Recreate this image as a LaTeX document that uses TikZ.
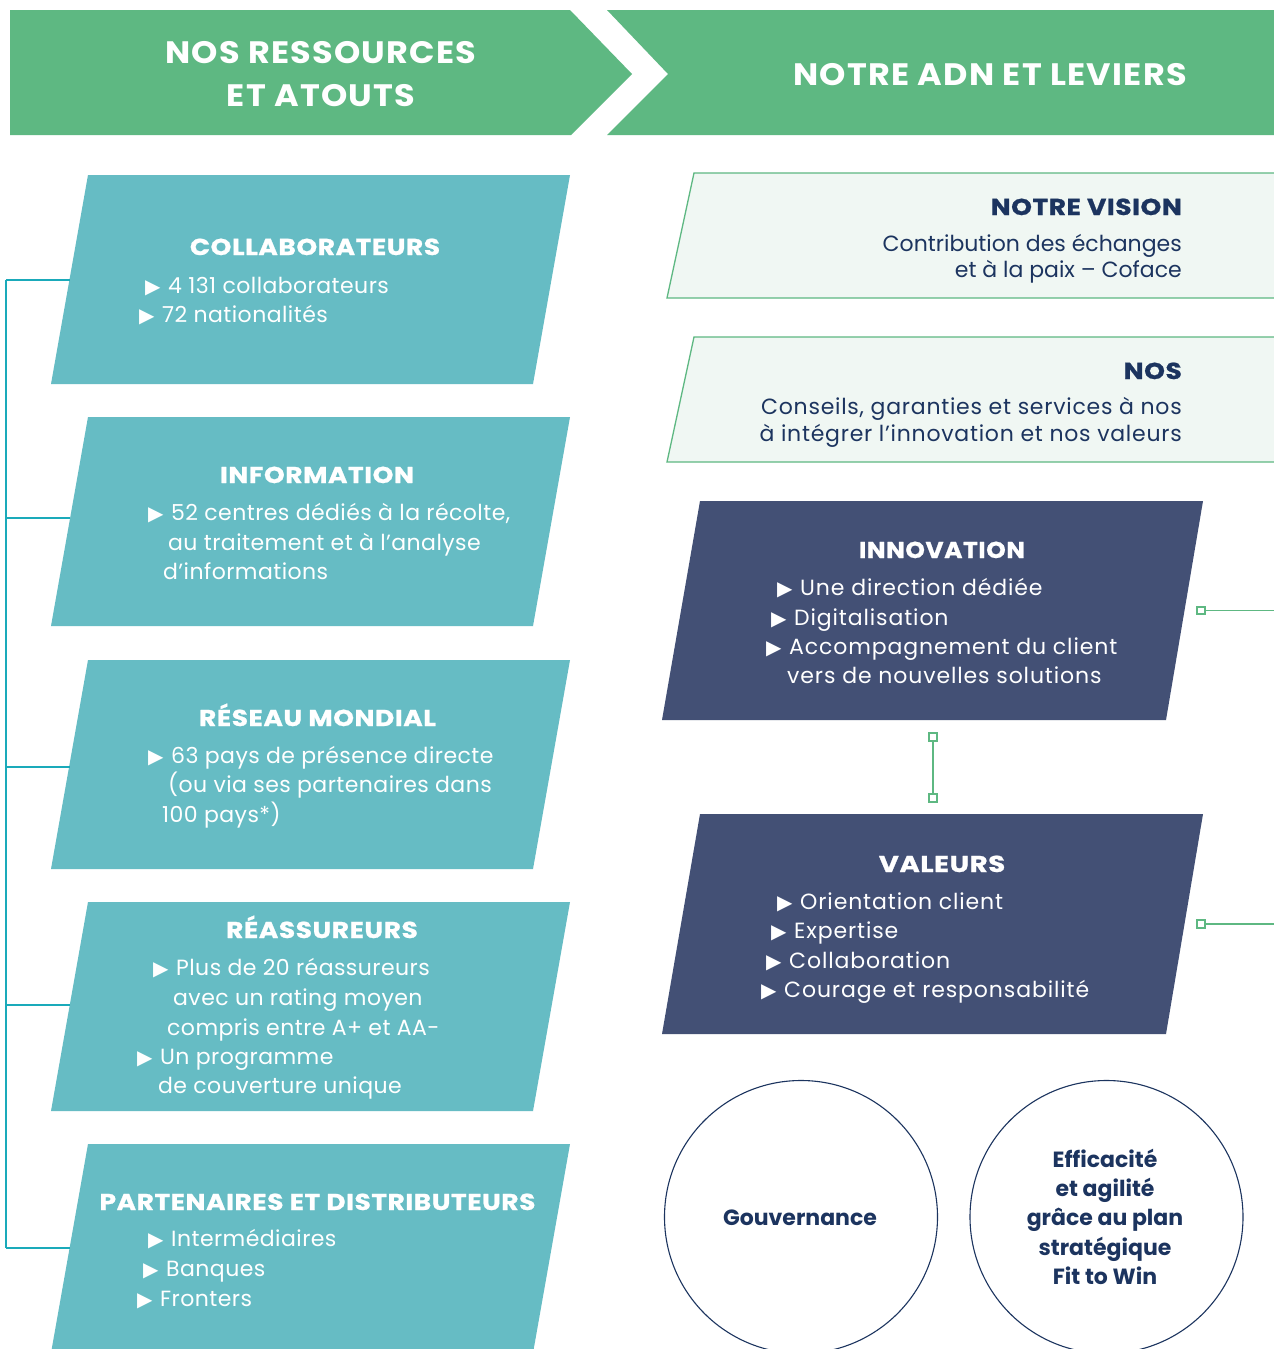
\documentclass[tikz,border=0pt]{standalone}
\usepackage{fontspec}
\setmainfont{Poppins}
\newfontfamily\symfont{DejaVu Sans}
\definecolor{hdrgreen}{RGB}{94,184,130}
\definecolor{tealbox}{RGB}{102,188,196}
\definecolor{tealline}{RGB}{26,170,186}
\definecolor{lightbox}{RGB}{240,247,243}
\definecolor{navybox}{RGB}{67,80,117}
\definecolor{navytext}{RGB}{28,52,95}
\newcommand\tri{\makebox[23pt][l]{\symfont\fontsize{20}{20}\selectfont ▶}}
\newcommand\heavyfont[1]{\bfseries\fontsize{23}{26}\selectfont\addfontfeatures{FakeStretch=#1,LetterSpace=2.5,FakeBold=1}}
\tikzset{
  hdrtext/.style={text=white,font=\bfseries\fontsize{31}{36}\selectfont\addfontfeatures{FakeStretch=1.08,LetterSpace=4},anchor=base,inner sep=0pt},
  ttitle/.style={text=white,font=\heavyfont{1.15},anchor=base,inner sep=0pt},
  tline/.style={text=white,font=\fontsize{22}{26}\selectfont\addfontfeatures{LetterSpace=2},anchor=base west,inner sep=0pt},
  vtitle/.style={text=navytext,font=\heavyfont{1.15},anchor=base east,inner sep=0pt},
  vline/.style={text=navytext,font=\fontsize{22}{26}\selectfont,anchor=base east,inner sep=0pt},
  vlinesp/.style={text=navytext,font=\fontsize{22}{26}\selectfont\addfontfeatures{LetterSpace=3.4},anchor=base east,inner sep=0pt},
  ntitle/.style={text=white,font=\heavyfont{1.08},anchor=base,inner sep=0pt},
  nline/.style={text=white,font=\fontsize{22}{26}\selectfont\addfontfeatures{LetterSpace=4},anchor=base west,inner sep=0pt},
  ctext/.style={text=navytext,font=\bfseries\fontsize{22}{26}\selectfont,anchor=base,inner sep=0pt},
  tealconn/.style={draw=tealline,line width=1.5pt},
  greenconn/.style={draw=hdrgreen,line width=1.7pt},
  sq/.style={draw=hdrgreen,fill=white,line width=1.7pt,minimum size=7.5pt,inner sep=0pt,rectangle},
  circ/.style={draw=navytext,line width=1.1pt,circle,minimum size=273pt,inner sep=0pt}
}
\begin{document}
\begin{tikzpicture}[x=1pt,y=-1pt]
\useasboundingbox (0,0) rectangle (1274,1349);
\fill[white] (0,0) rectangle (1274,1349);

% header banners
\fill[hdrgreen] (10,10) -- (570,10) -- (632,74) -- (571,135) -- (10,135) -- cycle;
\fill[hdrgreen] (607,10) -- (1280,10) -- (1280,135) -- (607,135) -- (668,74) -- cycle;
\node[hdrtext] (h1a) at (321,63) {NOS RESSOURCES};
\node[hdrtext] (h1b) at (321,106) {ET ATOUTS};
\node[hdrtext] (h2) at (990,85) {NOTRE ADN ET LEVIERS};

% teal parallelograms
\foreach \t in {175,417,660,902,1144}{
  \fill[tealbox] (88,\t) -- (570,\t) -- (533,\t+209) -- (51,\t+209) -- cycle;
}
% left spine
\coordinate (sp1) at (6,280);
\coordinate (sp2) at (6,518);
\coordinate (sp3) at (6,767);
\coordinate (sp4) at (6,1005);
\coordinate (sp5) at (6,1248);
\coordinate (bl1) at (70,280);
\coordinate (bl2) at (70,518);
\coordinate (bl3) at (70,767);
\coordinate (bl4) at (70,1005);
\coordinate (bl5) at (70,1248);
\draw[tealconn] (sp1) -- (sp5);
\foreach \i in {1,...,5}{\draw[tealconn] (sp\i) -- (bl\i);}

% box 1
\node[ttitle] (t1) at (315,255) {COLLABORATEURS};
\node[tline] (t1a) at (145,293) {\tri 4 131 collaborateurs};
\node[tline] (t1b) at (139,322) {\tri 72 nationalités};
% box 2
\node[ttitle] (t2) at (317,483) {INFORMATION};
\node[tline] (t2a) at (148,520) {\tri 52 centres dédiés à la récolte,};
\node[tline] (t2b) at (168,550) {au traitement et à l’analyse};
\node[tline] (t2c) at (163,579) {d’informations};
% box 3
\node[ttitle] (t3) at (317.5,726) {RÉSEAU MONDIAL};
\node[tline] (t3a) at (148,763) {\tri 63 pays de présence directe};
\node[tline] (t3b) at (168,792) {(ou via ses partenaires dans};
\node[tline] (t3c) at (162,822) {100 pays*)};
% box 4
\node[ttitle] (t4) at (322,938) {RÉASSUREURS};
\node[tline] (t4a) at (153,975) {\tri Plus de 20 réassureurs};
\node[tline] (t4b) at (173,1005) {avec un rating moyen};
\node[tline] (t4c) at (167,1035) {compris entre A+ et AA-};
\node[tline] (t4d) at (137,1064) {\tri Un programme};
\node[tline] (t4e) at (158,1093) {de couverture unique};
% box 5
\node[ttitle] (t5) at (317.5,1210) {PARTENAIRES ET DISTRIBUTEURS};
\node[tline] (t5a) at (148,1246) {\tri Intermédiaires};
\node[tline] (t5b) at (143,1276) {\tri Banques};
\node[tline] (t5c) at (137,1306) {\tri Fronters};

% light boxes
\filldraw[fill=lightbox,draw=hdrgreen,line width=1.3pt] (1280,173) -- (694,173) -- (667,298) -- (1280,298);
\filldraw[fill=lightbox,draw=hdrgreen,line width=1.3pt] (1280,337) -- (694,337) -- (667,462) -- (1280,462);
\node[vtitle] (v1) at (1182,215) {NOTRE VISION};
\node[vline] (v1a) at (1182,251) {Contribution des échanges};
\node[vline] (v1b) at (1182,277) {et à la paix – Coface};
\node[vtitle] (v2) at (1182,379) {NOS};
\node[vlinesp] (v2a) at (1182,414) {Conseils, garanties et services à nos};
\node[vlinesp] (v2b) at (1182,441) {à intégrer l’innovation et nos valeurs};

% navy boxes
\fill[navybox] (700,501) -- (1203,501) -- (1166,720) -- (662,720) -- cycle;
\fill[navybox] (700,814) -- (1203,814) -- (1166,1034) -- (662,1034) -- cycle;
\node[ntitle] (n1) at (942,558) {INNOVATION};
\node[nline] (n1a) at (777,595) {\tri Une direction dédiée};
\node[nline] (n1b) at (771,625) {\tri Digitalisation};
\node[nline] (n1c) at (766,654) {\tri Accompagnement du client};
\node[nline] (n1d) at (787,683) {vers de nouvelles solutions};
\node[ntitle,font=\heavyfont{1.2}] (n2) at (942,872) {VALEURS};
\node[nline] (n2a) at (777,909) {\tri Orientation client};
\node[nline] (n2b) at (771,938) {\tri Expertise};
\node[nline] (n2c) at (766,968) {\tri Collaboration};
\node[nline] (n2d) at (761,997) {\tri Courage et responsabilité};

% green connectors
\node[sq] (q1) at (933,737) {};
\node[sq] (q2) at (933,798) {};
\draw[greenconn] (q1) -- (q2);
\node[sq] (q3) at (1201,610.5) {};
\coordinate (e3) at (1276,610.5);
\draw[greenconn] (q3) -- (e3);
\node[sq] (q4) at (1201,924) {};
\coordinate (e4) at (1276,924);
\draw[greenconn] (q4) -- (e4);

% circles
\node[circ] (c1) at (801,1217) {};
\node[circ] (c2) at (1106.5,1217) {};
\node[ctext] (c1t) at (800,1225) {Gouvernance};
\node[ctext] (c2a) at (1105,1167) {Efficacité};
\node[ctext] (c2b) at (1105,1196) {et agilité};
\node[ctext] (c2c) at (1105,1225) {grâce au plan};
\node[ctext] (c2d) at (1105,1255) {stratégique};
\node[ctext] (c2e) at (1105,1284) {Fit to Win};
\end{tikzpicture}
\end{document}
